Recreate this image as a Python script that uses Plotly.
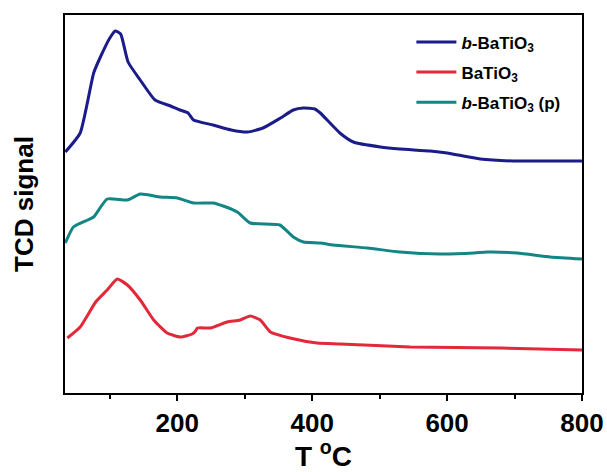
import plotly.graph_objects as go

# ---- data (signal in arbitrary units) ----
blue_T = [34, 56, 76, 86, 100, 108, 116, 127, 145, 167, 190, 204, 216, 224, 253, 280, 304, 327, 353, 372, 387, 404, 412, 441, 461, 501, 530, 575, 600, 649, 698, 750, 800]
blue_S = [241, 260, 320, 336, 355, 362, 359, 331, 313, 293, 287, 283, 280, 273, 268, 263, 261, 265, 275, 283, 285, 284, 280, 260, 251, 246, 244, 242, 240, 234, 232, 232, 232]

red_T = [37, 56, 79, 96, 111, 126, 145, 165, 185, 205, 222, 227, 230, 249, 274, 293, 308, 323, 338, 367, 407, 441, 545, 679, 800]
red_S = [55, 66, 91, 103, 114, 108, 93, 73, 60, 56, 59, 62, 65, 65, 71, 73, 77, 73, 61, 55, 50, 49, 46, 45, 43]

teal_T = [34, 46, 67, 76, 96, 126, 145, 175, 200, 224, 253, 268, 289, 308, 352, 372, 387, 412, 431, 482, 530, 590, 640, 659, 704, 753, 800]
teal_S = [150, 166, 173, 176, 194, 193, 199, 196, 195, 190, 190, 187, 181, 170, 168, 156, 151, 150, 148, 145, 141, 139, 140, 141, 140, 136, 134]

names = ["<i>b</i>-BaTiO<sub>3</sub>", "BaTiO<sub>3</sub>", "<i>b</i>-BaTiO<sub>3</sub> (p)"]
colors = ["#1b1b8a", "#e3283a", "#138585"]

fig = go.Figure()
for i, (T, S, n, c) in enumerate([(blue_T, blue_S, names[0], colors[0]),
                                  (red_T, red_S, names[1], colors[1]),
                                  (teal_T, teal_S, names[2], colors[2])]):
    fig.add_trace(go.Scatter(x=T, y=S, mode="lines", name=n, legendgroup=f"g{i}",
                             line=dict(color=c, width=3, shape="spline", smoothing=0.5)))

fig.update_layout(
    width=607, height=472,
    margin=dict(l=65, r=25, t=15, b=79),
    paper_bgcolor="white", plot_bgcolor="white",
    font=dict(family="Liberation Sans, Arial, sans-serif", color="black"),
    showlegend=True,
    legend=dict(x=0.67, y=0.975, xanchor="left", yanchor="top",
                bgcolor="rgba(0,0,0,0)", tracegroupgap=5,
                font=dict(size=17, weight="bold"), itemwidth=40),
)
fig.update_xaxes(range=[33.5, 800], showline=True, linecolor="black", linewidth=2,
                 mirror=True, ticks="outside", ticklen=6, tickwidth=2, tickcolor="black",
                 tick0=0, dtick=200, showgrid=False, zeroline=False, automargin=False,
                 minor=dict(ticks="outside", dtick=100, tick0=0, ticklen=4, tickwidth=2, tickcolor="black"),
                 tickfont=dict(size=26, weight="bold"),
                 title=dict(text="T <sup>o</sup>C", font=dict(size=28, weight="bold"), standoff=10))
fig.update_yaxes(range=[0, 378], showline=True, linecolor="black", linewidth=2,
                 mirror=True, ticks="", showticklabels=False, showgrid=False, zeroline=False,
                 automargin=False,
                 title=dict(text="TCD signal", font=dict(size=26, weight="bold"), standoff=22))

fig.write_html("out.html")
